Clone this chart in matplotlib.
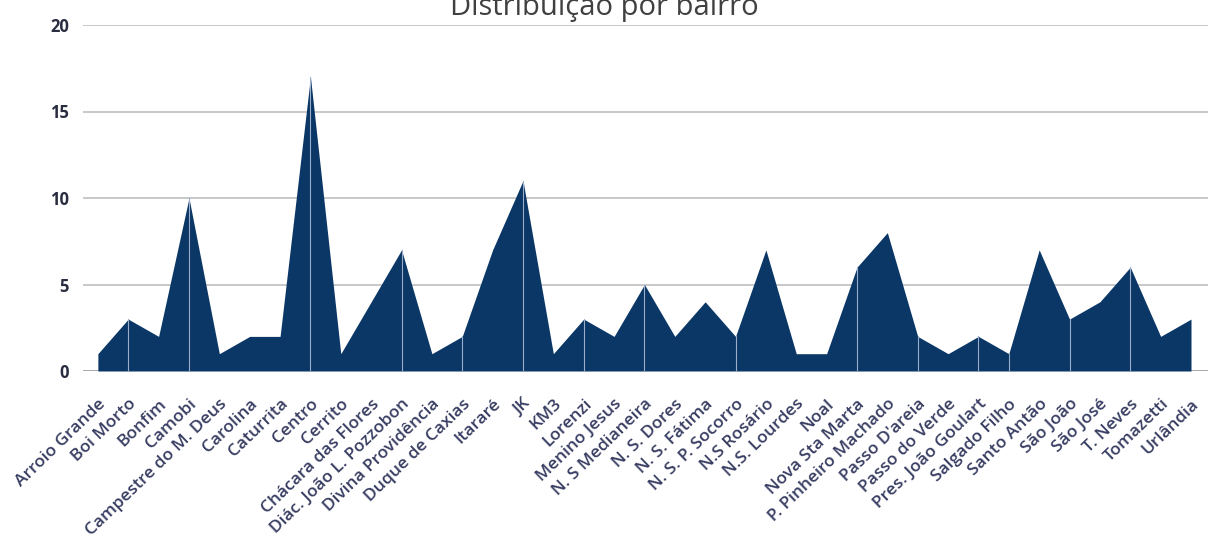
import matplotlib
matplotlib.use("Agg")
import matplotlib.pyplot as plt
import matplotlib.transforms as mtransforms
import numpy as np

bairros = ["Arroio Grande", "Boi Morto", "Bonfim", "Camobi", "Campestre do M. Deus",
           "Carolina", "Caturrita", "Centro", "Cerrito", "Chácara das Flores",
           "Diác. João L. Pozzobon", "Divina Providência", "Duque de Caxias", "Itararé",
           "JK", "KM3", "Lorenzi", "Menino Jesus", "N. S Medianeira", "N. S. Dores",
           "N. S. Fátima", "N. S. P. Socorro", "N.S Rosário", "N.S. Lourdes", "Noal",
           "Nova Sta Marta", "P. Pinheiro Machado", "Passo D'areia", "Passo do Verde",
           "Pres. João Goulart", "Salgado Filho", "Santo Antão", "São João", "São José",
           "T. Neves", "Tomazetti", "Urlândia"]
valores = [1, 3, 2, 10, 1, 2, 2, 17, 1, 4, 7, 1, 2, 7, 11, 1, 3, 2, 5, 2, 4, 2, 7, 1, 1,
           6, 8, 2, 1, 2, 1, 7, 3, 4, 6, 2, 3]
yticks = [0, 5, 10, 15, 20]

# light separator lines visible inside the area (style)
sep_idx = [1, 3, 7, 10, 12, 14, 16, 18, 21, 25, 27, 29, 30, 32, 34]

plt.rcParams['font.family'] = ['Open Sans', 'DejaVu Sans']

W, H = 1211, 546
fig = plt.figure(figsize=(W / 100, H / 100), dpi=100)
ax = fig.add_axes([83 / W, (H - 371) / H, 1125 / W, 346 / H])

x = np.arange(len(bairros))
fill_color = '#0b3766'
ax.fill_between(x, valores, 0, color=fill_color, linewidth=0, zorder=2)
for i in sep_idx:
    ax.plot([x[i], x[i]], [0, valores[i]], color='#9aaecb', lw=0.8, zorder=3)

ax.set_xlim(-0.49, len(bairros) - 1 + 0.56)
ax.set_ylim(0, 20)
ax.set_yticks(yticks)
ax.set_yticklabels([str(t) for t in yticks], fontsize=12, fontweight='bold', color='#2a2d40')
for t in yticks[1:]:
    ax.axhline(t, color='#c8c8c8', lw=1.4, zorder=1)
ax.axhline(0, color='#a8a8a8', lw=1.4, zorder=1)

ax.set_xticks(x)
ax.set_xticklabels(bairros, rotation=44, ha='right', va='top', rotation_mode='anchor',
                   fontsize=12.5, fontweight='semibold', color='#383d62')
offset = mtransforms.ScaledTranslation(8 / 72, 0, fig.dpi_scale_trans)
for lab in ax.get_xticklabels():
    lab.set_transform(lab.get_transform() + offset)
ax.tick_params(axis='x', length=0, pad=18)
ax.tick_params(axis='y', length=0, pad=10)
for s in ax.spines.values():
    s.set_visible(False)

fig.text(604 / W, 1 - 15 / H, "Distribuição por bairro", ha='center', va='baseline',
         fontsize=21, color='#404040')

fig.savefig("out.png", dpi=100, facecolor='white')
